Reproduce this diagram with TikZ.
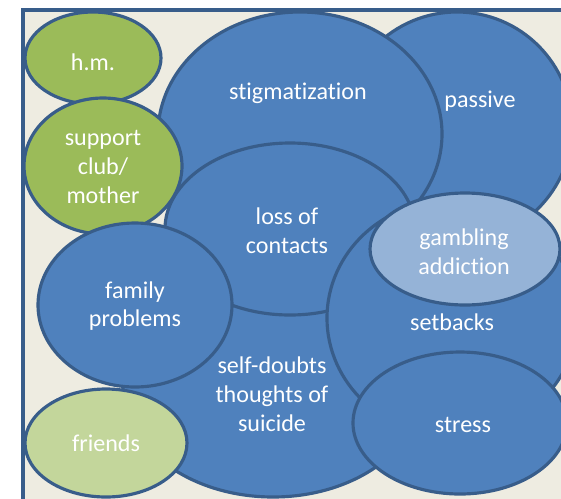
\documentclass[tikz,border=0pt]{standalone}
\usepackage{fontspec}
\setmainfont{Carlito}[Ligatures=NoCommon]
\definecolor{bgbeige}{HTML}{EEECE1}
\definecolor{edgeblue}{HTML}{385D8A}
\definecolor{midblue}{HTML}{4F81BD}
\definecolor{paleblue}{HTML}{95B3D7}
\definecolor{leafgreen}{HTML}{9BBB59}
\definecolor{palegreen}{HTML}{C3D69B}

\begin{document}
\begin{tikzpicture}[x=0.02cm,y=-0.02cm,
  bubble/.style={draw=edgeblue,line width=1.8pt},
  lbl/.style={text=white,align=center,font=\fontsize{13.7}{16.4}\selectfont}]
  \useasboundingbox (0,0) rectangle (561,498);
  \clip (0,0) rectangle (561,498);
  \fill[bgbeige] (23,9.7) rectangle (600,560);
  % back to front
  \draw[bubble,fill=midblue] (457,127) ellipse [x radius=115,y radius=115];
  \draw[bubble,fill=midblue] (300,134) ellipse [x radius=142,y radius=122];
  \draw[bubble,fill=midblue] (273,387) ellipse [x radius=150,y radius=110];
  \draw[bubble,fill=midblue] (290,229) ellipse [x radius=125,y radius=86];
  \draw[bubble,fill=leafgreen] (93,58) ellipse [x radius=68,y radius=46];
  \draw[bubble,fill=leafgreen] (103,166) ellipse [x radius=79,y radius=68];
  \draw[bubble,fill=midblue] (135,305) ellipse [x radius=97,y radius=82];
  \draw[bubble,fill=palegreen] (106,443) ellipse [x radius=81,y radius=54];
  \draw[bubble,fill=midblue] (452,318) ellipse [x radius=125,y radius=118];
  \draw[bubble,fill=paleblue] (465,249) ellipse [x radius=95,y radius=56];
  \draw[bubble,fill=midblue] (460,423) ellipse [x radius=107,y radius=71];
  % frame
  \draw[edgeblue,line width=2.3pt] (23,9.7) rectangle (600,560);
  % labels
  \node[lbl] (hm) at (93,62) {h.m.};
  \node[lbl] (stigma) at (298,93) {stigmatization};
  \node[lbl] (passive) at (480,101) {passive};
  \node[lbl] (support) at (103,167) {support\\club/\\mother};
  \node[lbl] (contacts) at (287,231) {loss of\\contacts};
  \node[lbl] (gambling) at (464,252) {gambling\\addiction};
  \node[lbl] (family) at (135,306) {family\\problems};
  \node[lbl] (setbacks) at (452,322) {setbacks};
  \node[lbl] (doubts) at (272,394) {self-doubts\\thoughts of\\suicide};
  \node[lbl] (stress) at (463,425) {stress};
  \node[lbl] (friends) at (106,443) {friends};
\end{tikzpicture}
\end{document}
